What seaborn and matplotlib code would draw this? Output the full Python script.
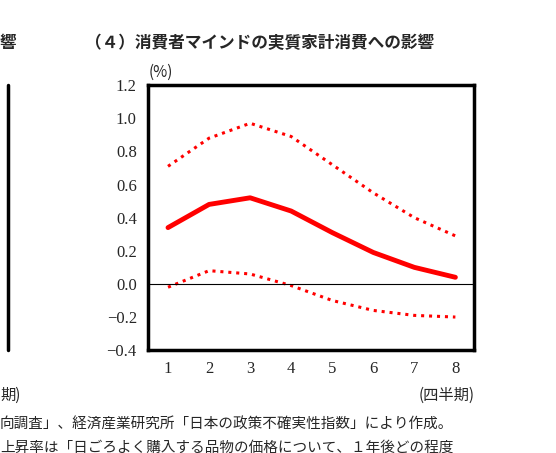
import numpy as np
import pandas as pd
import matplotlib
matplotlib.use("Agg")
import matplotlib.pyplot as plt
import seaborn as sns

quarters = [1, 2, 3, 4, 5, 6, 7, 8]
central = [0.34, 0.48, 0.52, 0.44, 0.31, 0.19, 0.10, 0.04]
upper = [0.71, 0.88, 0.97, 0.89, 0.72, 0.55, 0.40, 0.29]
lower = [-0.02, 0.08, 0.06, -0.01, -0.10, -0.16, -0.19, -0.20]

sns.set_style("white")
plt.rcParams['font.family'] = ['Noto Sans CJK JP', 'DejaVu Sans']

df = pd.DataFrame({"q": quarters, "c": central, "u": upper, "l": lower})

fig = plt.figure(figsize=(5.56, 4.53), dpi=100)
ax = fig.add_axes([0.266, 0.227, 0.587, 0.585])
red = "#ff0000"
sns.lineplot(data=df, x="q", y="c", ax=ax, color=red, lw=3.5)
sns.lineplot(data=df, x="q", y="u", ax=ax, color=red, lw=2.2, linestyle=(0, (1, 1.6)))
sns.lineplot(data=df, x="q", y="l", ax=ax, color=red, lw=2.2, linestyle=(0, (1, 1.6)))
ax.axhline(0, color="black", lw=0.8)

ax.set_xlim(0.51, 8.46)
ax.set_ylim(-0.4, 1.2)
ax.set_xticks(quarters)
ax.set_yticks(np.arange(-0.4, 1.21, 0.2))
ax.set_yticklabels([f"{v:.1f}".replace("-", "−") for v in np.arange(-0.4, 1.21, 0.2)])
ax.tick_params(labelsize=12, length=0, pad=8)
for lab in ax.get_xticklabels() + ax.get_yticklabels():
    lab.set_family(["Liberation Serif", "DejaVu Serif"])
ax.set_xlabel("")
ax.set_ylabel("")
for s in ax.spines.values():
    s.set_linewidth(2.5)
    s.set_color("black")

fig.text(0.153, 0.905, "（４）消費者マインドの実質家計消費への影響", fontsize=12, fontweight="bold", va="center")
fig.text(0.268, 0.84, "(%)", fontsize=11, va="center")
fig.text(0.853, 0.128, "(四半期)", fontsize=11, ha="right", va="center")

# neighbouring panel fragments
fig.text(0.0, 0.905, "響", fontsize=12, fontweight="bold", va="center")
fig.add_artist(plt.Line2D([0.014, 0.014], [0.227, 0.812], color="black", lw=2.5))
fig.text(0.0, 0.128, "期)", fontsize=11, va="center")
fig.text(0.0, 0.062, "向調査」、経済産業研究所「日本の政策不確実性指数」により作成。", fontsize=10.5, va="center")
fig.text(0.0, 0.012, "上昇率は「日ごろよく購入する品物の価格について、１年後どの程度", fontsize=10.5, va="center")

fig.savefig("out.png", dpi=100)
